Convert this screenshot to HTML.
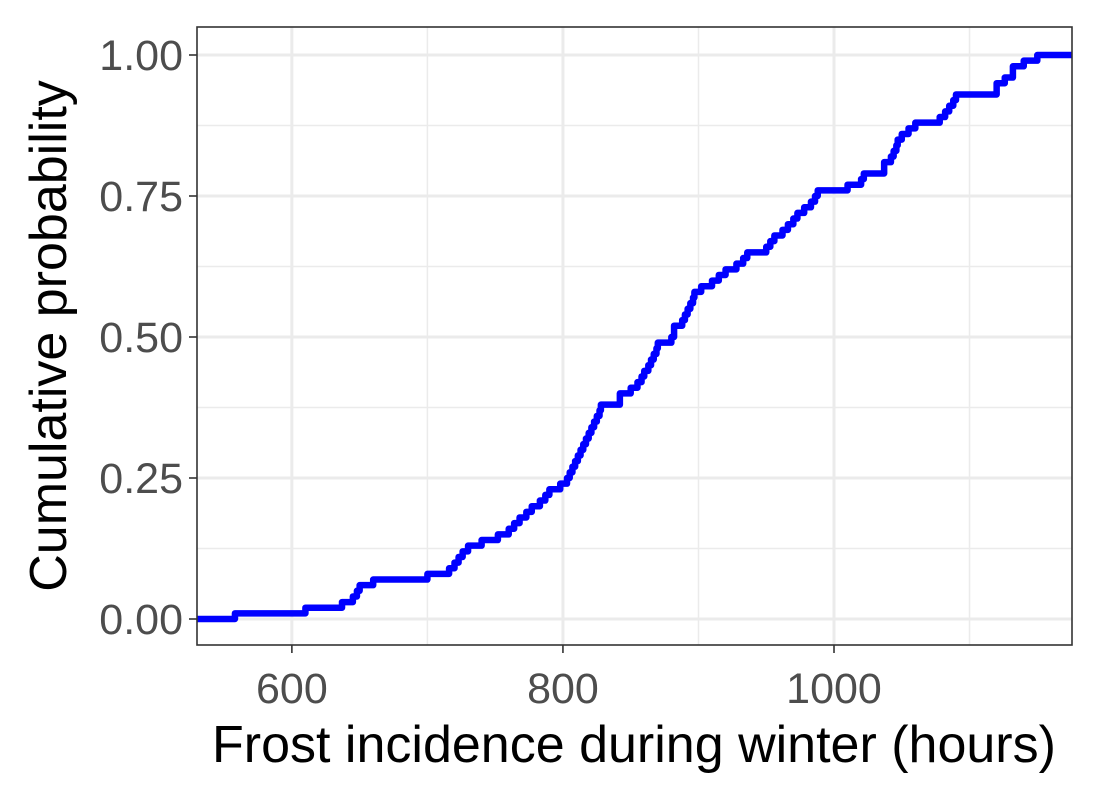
<!DOCTYPE html>
<html><head><meta charset="utf-8"><style>
html,body{margin:0;padding:0;background:#fff;}
svg{display:block;font-family:"Liberation Sans",Arial,sans-serif;}
</style></head><body>
<svg id="chart" width="1100" height="800" viewBox="0 0 1100 800">
<rect x="0" y="0" width="1100" height="800" fill="#fff"/>
<g id="grid"></g>
<g id="series"></g>
<rect x="197" y="27" width="875" height="618" fill="none" stroke="#333" stroke-width="1.6"/>
<g id="axes"></g>
<text x="634" y="762" text-anchor="middle" font-size="52" fill="#000">Frost incidence during winter (hours)</text>
<text transform="translate(66,336) rotate(-90)" text-anchor="middle" font-size="52" fill="#000">Cumulative probability</text>
</svg>
<script>
const values = [558,610,637,645,648,650,660,700,716,720,723,726,730,740,752,760,764,768,773,777,783,787,790,798,803,
805,807,809,811,813,815,817,819,821,823,825,827,828,842,842,850,855,858,860,863,865,867,869,870,880,
882,882,888,890,892,894,896,897,902,910,915,920,928,933,936,950,953,956,962,966,970,973,978,983,986,988,
1010,1020,1022,1037,1037,1042,1044,1046,1047,1050,1055,1060,1078,1082,1085,1088,1090,1120,1120,1126,1132,1132,1140,1150];
const xTicks = [600,800,1000];
const xMinor = [500,700,900,1100];
const yTicks = [0,0.25,0.5,0.75,1];
const yTickLabels = ["0.00","0.25","0.50","0.75","1.00"];
const yMinor = [0.125,0.375,0.625,0.875];
const xDomain = [530,1175.6];

const NS="http://www.w3.org/2000/svg";
const X0=197,X1=1072,Y0=645,Y1=27;
function xs(v){return X0+(v-xDomain[0])/(xDomain[1]-xDomain[0])*(X1-X0);}
function ys(p){return 619-p*564;}
function mk(tag,attrs,parent){const e=document.createElementNS(NS,tag);for(const k in attrs)e.setAttribute(k,attrs[k]);parent.appendChild(e);return e;}
const grid=document.getElementById('grid'),axes=document.getElementById('axes'),series=document.getElementById('series');
xMinor.forEach(v=>{const x=xs(v);if(x<X0||x>X1)return;
 const l=mk('line',{x1:x,x2:x,y1:Y1,y2:Y0,stroke:'#ebebeb','stroke-width':1.5},grid);
 
 });
yMinor.forEach(v=>{const y=ys(v);
 const l=mk('line',{x1:X0,x2:X1,y1:y,y2:y,stroke:'#ebebeb','stroke-width':1.5},grid);
 
 });
xTicks.forEach(v=>{const x=xs(v);
 const l=mk('line',{x1:x,x2:x,y1:Y1,y2:Y0,stroke:'#ebebeb','stroke-width':3},grid);
 
 
 const t=mk('line',{x1:x,x2:x,y1:Y0,y2:Y0+8,stroke:'#333','stroke-width':1.6},axes);
 
 
 const tx=mk('text',{x:x,y:703,'text-anchor':'middle','font-size':43,fill:'#4d4d4d'},axes);
 tx.textContent=v;
 
 });
yTicks.forEach((v,i)=>{const y=ys(v);
 const l=mk('line',{x1:X0,x2:X1,y1:y,y2:y,stroke:'#ebebeb','stroke-width':3},grid);
 
 
 const t=mk('line',{x1:X0-8,x2:X0,y1:y,y2:y,stroke:'#333','stroke-width':1.6},axes);
 
 
 const tx=mk('text',{x:183,y:y+15,'text-anchor':'end','font-size':43,fill:'#4d4d4d'},axes);
 tx.textContent=yTickLabels[i];
 
 });
const n=values.length;
let d='M'+X0+','+ys(0);
values.forEach((v,i)=>{d+=' H'+xs(v)+' V'+ys((i+1)/n);});
d+=' H'+X1;
const p=mk('path',{d:d,fill:'none',stroke:'#0000ff','stroke-width':6.5,'stroke-linejoin':'round','stroke-linecap':'butt'},series);


</script>
</body></html>
